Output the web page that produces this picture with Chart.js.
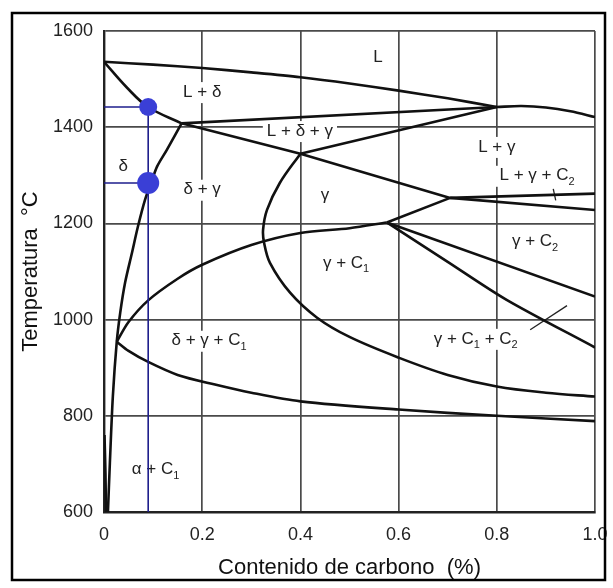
<!DOCTYPE html>
<html>
<head>
<meta charset="utf-8">
<script src="https://cdn.jsdelivr.net/npm/chart.js@4.4.0/dist/chart.umd.min.js"></script>
<style>
  html, body { margin: 0; padding: 0; background: #fff; }
</style>
</head>
<body>
<canvas id="chart" width="613" height="588"></canvas>
<script>
// Axis ticks
const xTickLabels = ['0', '0.2', '0.4', '0.6', '0.8', '1.0']
const yTickLabels = ['600', '800', '1000', '1200', '1400', '1600']

// Phase boundaries: carbon content (%) and temperature (°C)
const liquidusX = [0, 0.1, 0.2, 0.3, 0.4, 0.5, 0.6, 0.7, 0.8]
const liquidusT = [1536, 1530, 1523, 1514, 1504, 1491, 1476, 1460, 1442]
const liquidus2X = [0.8, 0.85, 0.9, 0.95, 1.0]
const liquidus2T = [1442, 1444, 1441, 1433, 1421]
const solidusDeltaX = [0, 0.047, 0.09, 0.158]
const solidusDeltaT = [1536, 1482, 1442, 1408]
const peritecticX = [0.158, 0.8]
const peritecticT = [1408, 1442]
const ldgLowerX = [0.158, 0.4, 0.705]
const ldgLowerT = [1408, 1345, 1253]
const gammaLiqX = [0.4, 0.8]
const gammaLiqT = [1345, 1442]
const eutUpperX = [0.705, 1.0]
const eutUpperT = [1253, 1262]
const eutLowerX = [0.705, 1.0]
const eutLowerT = [1253, 1228]
const gammaLoopX = [0.4, 0.358, 0.332, 0.324, 0.326, 0.338, 0.379, 0.434, 0.5, 0.6, 0.7, 0.8, 0.9, 1.0]
const gammaLoopT = [1345, 1284, 1228, 1187, 1160, 1118, 1056, 1004, 964, 921, 885, 861, 848, 840]
const gammaC1X = [0.026, 0.05, 0.09, 0.15, 0.2, 0.3, 0.4, 0.5, 0.576]
const gammaC1T = [954, 995, 1040, 1085, 1114, 1155, 1180, 1190, 1202]
const linkX = [0.576, 0.705]
const linkT = [1202, 1253]
const c2UpperX = [0.576, 1.0]
const c2UpperT = [1202, 1048]
const c2LowerX = [0.576, 0.7, 0.82, 1.0]
const c2LowerT = [1202, 1120, 1041, 942]
const dgcLowerX = [0.026, 0.05, 0.09, 0.15, 0.226, 0.3, 0.4, 0.6, 0.8, 1.0]
const dgcLowerT = [954, 935, 912, 885, 865, 848, 830, 813, 800, 789]
const deltaX = [0.158, 0.128, 0.108, 0.096, 0.0835, 0.069, 0.057, 0.043, 0.033, 0.026, 0.018, 0.012, 0.008]
const deltaT = [1408, 1353, 1318, 1284, 1249, 1193, 1139, 1077, 1014, 954, 840, 703, 600]
const alphaX = [0.004, 0.003, 0.001]
const alphaT = [600, 680, 760]
const pointer1X = [0.868, 0.943]
const pointer1T = [979, 1029]
const pointer2X = [0.915, 0.92]
const pointer2T = [1272, 1248]

// Marked points (blue)
const markerX = [0.09, 0.09]
const markerT = [1442, 1284]

// Region labels ("_n" = subscript)
const labelText = ['L', 'L + δ', 'L + δ + γ', 'L + γ', 'L + γ + C_2', 'δ', 'δ + γ', 'γ',
  'γ + C_1', 'γ + C_2', 'δ + γ + C_1', 'γ + C_1 + C_2', 'α + C_1']
const labelX = [0.558, 0.2, 0.399, 0.8, 0.882, 0.039, 0.2, 0.45, 0.493, 0.878, 0.214, 0.757, 0.105]
const labelT = [1546, 1473, 1392, 1359, 1299, 1318, 1270, 1259, 1118, 1162, 956, 960, 688]

const FONT = '"Liberation Sans", Arial, sans-serif'
const pts = (xs, ts) => xs.map((x, i) => ({x: x, y: ts[i]}))

const curves = [
  [liquidusX, liquidusT, 0.3],
  [liquidus2X, liquidus2T, 0.3],
  [solidusDeltaX, solidusDeltaT, 0.4],
  [peritecticX, peritecticT, 0],
  [ldgLowerX, ldgLowerT, 0],
  [gammaLiqX, gammaLiqT, 0],
  [eutUpperX, eutUpperT, 0],
  [eutLowerX, eutLowerT, 0],
  [gammaLoopX, gammaLoopT, 0.35],
  [gammaC1X, gammaC1T, 0.3],
  [linkX, linkT, 0],
  [c2UpperX, c2UpperT, 0],
  [c2LowerX, c2LowerT, 0.3],
  [dgcLowerX, dgcLowerT, 0.3],
  [deltaX, deltaT, 0.3],
  [alphaX, alphaT, 0.3],
]

const datasets = []

// blue markers first so they end up on top
datasets.push({
  data: pts(markerX, markerT),
  showLine: false,
  pointRadius: [9, 11],
  pointBackgroundColor: '#3a3fd6',
  pointBorderColor: '#3a3fd6',
  pointBorderWidth: 0
})
datasets.push({
  data: [{x: markerX[0], y: markerT[0]}, {x: markerX[0], y: 600}],
  showLine: true, pointRadius: 0, borderColor: '#1e1e8c', borderWidth: 1.6
})
markerX.forEach((mx, i) => {
  datasets.push({
    data: [{x: 0, y: markerT[i]}, {x: mx, y: markerT[i]}],
    showLine: true, pointRadius: 0, borderColor: '#1e1e8c', borderWidth: 1.6
  })
})

curves.forEach(c => {
  datasets.push({
    data: pts(c[0], c[1]),
    showLine: true,
    pointRadius: 0,
    borderColor: '#111',
    borderWidth: 2.6,
    tension: c[2]
  })
})

;[[pointer1X, pointer1T], [pointer2X, pointer2T]].forEach(p => {
  datasets.push({
    data: pts(p[0], p[1]),
    showLine: true, pointRadius: 0, borderColor: '#222', borderWidth: 1.3
  })
})

const regionLabels = {
  id: 'regionLabels',
  beforeDatasetsDraw(chart) {
    const {ctx, scales} = chart
    ctx.save()
    ctx.textBaseline = 'middle'
    ctx.textAlign = 'left'
    labelText.forEach((txt, i) => {
      const parts = txt.split(/_(\d)/)
      let w = 0
      parts.forEach((p, k) => {
        ctx.font = (k % 2 ? '11px ' : '17px ') + FONT
        w += ctx.measureText(p).width
      })
      const cx = scales.x.getPixelForValue(labelX[i])
      const cy = scales.y.getPixelForValue(labelT[i])
      let px = cx - w / 2
      ctx.fillStyle = '#fff'
      ctx.fillRect(px - 4, cy - 10, w + 8, 21)
      ctx.fillStyle = '#222'
      parts.forEach((p, k) => {
        ctx.font = (k % 2 ? '11px ' : '17px ') + FONT
        ctx.fillText(p, px, k % 2 ? cy + 6 : cy)
        px += ctx.measureText(p).width
      })
    })
    ctx.restore()
  }
}

const frame = {
  id: 'frame',
  afterDraw(chart) {
    const ctx = chart.ctx
    ctx.save()
    ctx.strokeStyle = '#000'
    ctx.lineWidth = 2.5
    ctx.strokeRect(12, 13, 593, 567)
    ctx.restore()
  }
}

new Chart(document.getElementById('chart'), {
  type: 'scatter',
  data: {datasets: datasets},
  options: {
    responsive: false,
    animation: false,
    layout: {padding: {left: 0, top: 31, right: 18, bottom: 0}},
    plugins: {legend: {display: false}, tooltip: {enabled: false}},
    scales: {
      x: {
        type: 'linear',
        min: 0,
        max: 1,
        afterFit: (scale) => {
          scale.height = 76
          // keep the last tick label from shrinking the plot area
          scale.paddingLeft = 0
          scale.paddingRight = 0
        },
        afterBuildTicks: (scale) => {
          scale.ticks = xTickLabels.map(v => ({value: parseFloat(v)}))
        },
        ticks: {
          padding: 12,
          color: '#222',
          font: {family: FONT, size: 18},
          callback: (value, index) => xTickLabels[index]
        },
        grid: {color: '#4a4a4a', lineWidth: 1.7, drawTicks: false},
        border: {color: '#222', width: 2.4},
        title: {
          display: true,
          text: 'Contenido de carbono  (%)',
          color: '#111',
          font: {family: FONT, size: 22},
          padding: {top: 4, bottom: 7}
        }
      },
      y: {
        type: 'linear',
        min: 600,
        max: 1600,
        afterFit: (scale) => {
          scale.width = 104
          scale.paddingTop = 0
          scale.paddingBottom = 0
        },
        afterBuildTicks: (scale) => {
          scale.ticks = yTickLabels.map(v => ({value: parseFloat(v)}))
        },
        ticks: {
          padding: 11,
          color: '#222',
          font: {family: FONT, size: 18},
          callback: (value, index) => yTickLabels[index]
        },
        grid: {color: '#4a4a4a', lineWidth: 1.7, drawTicks: false},
        border: {color: '#222', width: 2.4},
        title: {
          display: true,
          text: 'Temperatura  °C',
          color: '#111',
          font: {family: FONT, size: 22},
          padding: {top: 18, bottom: 0}
        }
      }
    }
  },
  plugins: [regionLabels, frame]
})
</script>
</body>
</html>
